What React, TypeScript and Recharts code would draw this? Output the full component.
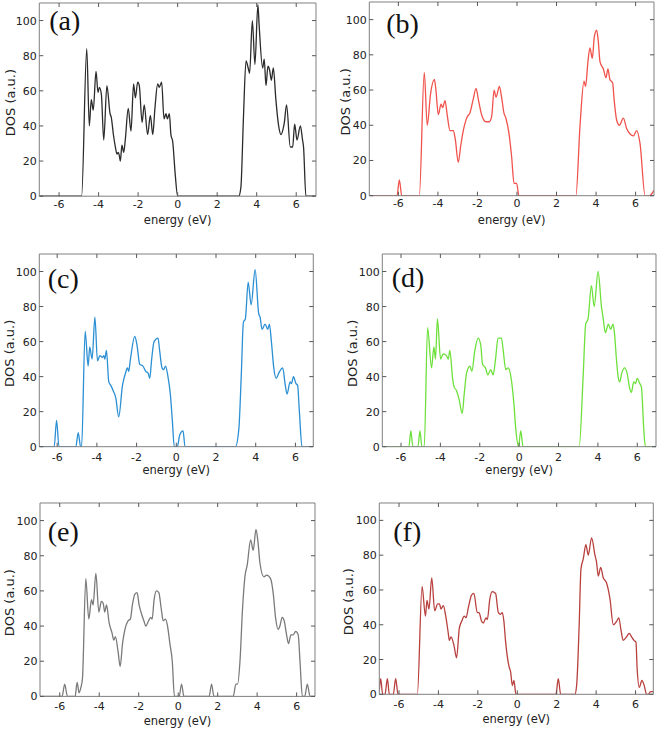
import { LineChart, Line, XAxis, YAxis } from "recharts"

// energy (eV) / DOS (a.u.)
const X_TICKS = [-6, -4, -2, 0, 2, 4, 6]
const Y_TICKS = [0, 20, 40, 60, 80, 100]

const energyA = [-7, -4.86, -4.6, -4.47, -4.37, -4.27, -4.13, -4.03, -3.96, -3.86, -3.74, -3.58, -3.42, -3.36, -3.25, -3.15, -3.07, -3.0, -2.95, -2.9, -2.82, -2.73, -2.65, -2.5, -2.36, -2.23, -2.14, -2.02, -1.94, -1.8, -1.69, -1.52, -1.38, -1.26, -1.15, -1.01, -0.93, -0.81, -0.69, -0.59, -0.52, -0.42, -0.34, -0.25, -0.12, 0, 3.09, 3.2, 3.33, 3.46, 3.59, 3.64, 3.78, 3.91, 4.06, 4.12, 4.3, 4.38, 4.47, 4.57, 4.65, 4.74, 4.84, 4.97, 5.11, 5.23, 5.35, 5.4, 5.51, 5.7, 5.82, 5.92, 6.04, 6.21, 6.32, 6.37, 6.49, 7]
const dosA = [0, 0, 84, 40, 55, 49, 71, 59, 62, 58, 32, 63, 47, 45, 35, 28, 24, 25, 23, 20, 29, 25, 32, 50, 37, 64, 56, 65, 63, 42, 52, 35, 46, 35, 50, 64, 62, 65, 44, 47, 44, 47, 35, 31, 12, 0, 0, 5, 45, 77, 72, 70, 100, 75, 109, 98, 73, 78, 63, 74, 72, 66, 73, 55, 40, 35, 39, 42, 52, 28, 28, 41, 32, 40, 32, 28, 0, 0]

const energyB = [-7.47, -6.07, -5.95, -5.83, -4.94, -4.69, -4.54, -4.37, -4.18, -4.1, -3.98, -3.84, -3.76, -3.64, -3.52, -3.39, -3.22, -3.12, -2.97, -2.85, -2.75, -2.51, -2.38, -2.21, -2.07, -1.96, -1.79, -1.57, -1.4, -1.28, -1.16, -1.06, -0.89, -0.78, -0.66, -0.56, -0.4, -0.27, -0.15, -0.02, 0.1, 2.98, 3.19, 3.39, 3.47, 3.58, 3.69, 3.81, 3.91, 4.03, 4.11, 4.2, 4.37, 4.5, 4.6, 4.7, 4.84, 4.91, 5.04, 5.18, 5.38, 5.55, 5.72, 5.89, 6.05, 6.22, 6.48, 6.69, 6.93]
const dosB = [0, 0, 9, 0, 0, 70, 40, 58, 66, 60, 46, 52, 50, 54, 45, 37, 37, 32, 19, 28, 35, 45, 47, 55, 61, 55, 46, 42, 42, 45, 60, 56, 62, 56, 47, 44, 35, 22, 7, 7, 0, 0, 40, 65, 62, 75, 84, 78, 90, 94, 88, 76, 72, 67, 72, 66, 64, 55, 43, 40, 44, 38, 35, 34, 37, 30, 0, 0, 3]

const energyC = [-6.9, -6.15, -6.03, -5.91, -5.06, -4.94, -4.82, -4.77, -4.59, -4.44, -4.36, -4.24, -4.1, -3.97, -3.85, -3.72, -3.65, -3.6, -3.52, -3.4, -3.3, -3.18, -3.05, -2.9, -2.71, -2.56, -2.46, -2.4, -2.31, -2.09, -1.98, -1.84, -1.68, -1.54, -1.42, -1.34, -1.24, -1.12, -0.92, -0.84, -0.72, -0.64, -0.54, -0.42, -0.3, -0.2, -0.1, 0.05, 0.18, 0.34, 0.44, 2.98, 3.15, 3.27, 3.38, 3.48, 3.62, 3.77, 3.97, 4.15, 4.22, 4.32, 4.47, 4.61, 4.69, 4.79, 4.91, 5.03, 5.16, 5.36, 5.49, 5.58, 5.73, 5.8, 5.9, 6.03, 6.11, 6.2, 6.33, 6.9]
const dosC = [0, 0, 15, 0, 0, 8, 0, 0, 66, 46, 57, 50, 74, 49, 52, 51, 52, 50, 55, 37, 35, 32, 28, 17, 35, 42, 45, 43, 50, 63, 58, 47, 46, 43, 42, 39, 50, 60, 62, 55, 45, 44, 46, 40, 30, 15, 0, 0, 7, 9, 0, 0, 10, 40, 71, 73, 94, 81, 101, 76, 74, 67, 70, 67, 70, 60, 45, 39, 42, 45, 35, 30, 37, 36, 40, 36, 35, 20, 0, 0]

const energyD = [-6.95, -5.6, -5.5, -5.4, -5.14, -5.04, -4.94, -4.82, -4.65, -4.45, -4.33, -4.25, -4.15, -3.99, -3.86, -3.69, -3.6, -3.52, -3.38, -3.3, -3.18, -3.05, -2.89, -2.79, -2.67, -2.5, -2.4, -2.25, -2.08, -1.95, -1.86, -1.71, -1.59, -1.44, -1.32, -1.2, -1.07, -0.9, -0.81, -0.68, -0.56, -0.42, -0.27, -0.17, -0.03, 0.08, 0.2, 3.05, 3.25, 3.38, 3.5, 3.67, 3.81, 4.01, 4.18, 4.26, 4.38, 4.53, 4.65, 4.77, 4.84, 4.94, 5.04, 5.11, 5.21, 5.36, 5.48, 5.62, 5.7, 5.82, 5.91, 5.99, 6.13, 6.21, 6.33, 6.41, 6.95]
const dosD = [0, 0, 9, 0, 0, 9, 0, 0, 68, 45, 57, 50, 73, 50, 53, 52, 50, 55, 39, 34, 32, 27, 19, 30, 42, 46, 43, 55, 62, 58, 47, 45, 41, 44, 41, 50, 62, 62, 55, 44, 45, 40, 25, 10, 0, 9, 0, 0, 40, 70, 73, 92, 80, 100, 80, 74, 65, 70, 67, 70, 65, 50, 39, 37, 42, 45, 42, 33, 31, 37, 36, 39, 36, 34, 10, 0, 0]

const energyE = [-7, -5.88, -5.75, -5.61, -5.22, -5.12, -5.02, -4.93, -4.85, -4.68, -4.53, -4.39, -4.31, -4.17, -4.02, -3.89, -3.8, -3.72, -3.63, -3.5, -3.35, -3.26, -3.18, -3.04, -2.94, -2.82, -2.7, -2.54, -2.42, -2.32, -2.2, -2.08, -1.98, -1.86, -1.74, -1.64, -1.5, -1.4, -1.32, -1.22, -1.1, -0.98, -0.86, -0.76, -0.64, -0.54, -0.42, -0.3, -0.19, 0.05, 0.17, 0.29, 1.57, 1.69, 1.81, 2.79, 2.92, 3.01, 3.13, 3.26, 3.38, 3.5, 3.67, 3.8, 3.94, 4.04, 4.14, 4.34, 4.48, 4.68, 4.82, 4.93, 5.07, 5.15, 5.27, 5.37, 5.49, 5.59, 5.71, 5.83, 5.95, 6.08, 6.17, 6.29, 6.41, 6.54, 6.68, 6.93]
const dosE = [0, 0, 7, 0, 0, 8, 2, 5, 10, 67, 44, 55, 52, 70, 48, 54, 53, 48, 52, 42, 36, 32, 34, 25, 17, 30, 38, 43, 44, 52, 58, 59, 52, 47, 43, 40, 43, 45, 44, 55, 60, 59, 50, 43, 44, 40, 30, 20, 0, 0, 7, 0, 0, 7, 0, 0, 7, 7, 20, 50, 68, 75, 89, 83, 95, 88, 76, 68, 69, 67, 58, 45, 38, 40, 45, 43, 35, 30, 35, 35, 37, 35, 20, 0, 0, 7, 0, 0]

const energyF = [-7, -6.93, -6.83, -6.71, -6.59, -6.49, -6.29, -6.17, -6.05, -5.07, -4.83, -4.66, -4.58, -4.48, -4.34, -4.19, -4.04, -3.95, -3.87, -3.75, -3.63, -3.5, -3.45, -3.36, -3.21, -3.08, -2.94, -2.82, -2.69, -2.6, -2.48, -2.32, -2.2, -2.03, -1.94, -1.81, -1.72, -1.59, -1.52, -1.39, -1.27, -1.1, -0.96, -0.85, -0.76, -0.68, -0.59, -0.42, -0.34, -0.25, -0.17, -0.07, 1.96, 2.08, 2.2, 2.92, 3.01, 3.14, 3.23, 3.35, 3.48, 3.6, 3.77, 3.94, 4.02, 4.11, 4.23, 4.36, 4.53, 4.7, 4.87, 5.04, 5.15, 5.26, 5.37, 5.54, 5.68, 5.8, 5.92, 6.02, 6.08, 6.19, 6.32, 6.44, 6.56, 6.64, 6.76, 6.9]
const dosF = [2, 9, 0, 0, 9, 0, 0, 9, 0, 0, 62, 45, 54, 49, 67, 48, 52, 52, 49, 51, 45, 35, 31, 33, 28, 21, 38, 42, 45, 44, 50, 57, 58, 47, 47, 42, 41, 44, 43, 55, 59, 58, 47, 46, 47, 42, 30, 16, 13, 5, 8, 0, 0, 9, 0, 0, 5, 40, 72, 78, 86, 80, 90, 80, 76, 68, 73, 67, 64, 55, 40, 42, 44, 37, 31, 33, 35, 33, 31, 30, 15, 4, 8, 5, 0, 0, 1.5, 1.5]

const FRAME = "#808080"
const TICK = "#555555"
const TEXT = "#222222"
const SANS = "'DejaVu Sans', Verdana, sans-serif"
const SERIF = "'Liberation Serif', 'Times New Roman', serif"
const TOP_PAD = 6
const BOTTOM_PAD = 40

interface Panel {
  letter: string
  energy: number[]
  dos: number[]
  color: string
  col: number
  left: number
  right: number
  top: number
  bottom: number
  xMin: number
  xMax: number
  dosDx: number
  tickDy: number
  titleDy: number
  letterDx: number
  letterDy: number
}

const PANELS: Panel[] = [
  { letter: "(a)", energy: energyA, dos: dosA, color: "#2b2b2b", col: 0, left: 39.3, right: 316, top: 2.5, bottom: 195.7, xMin: -7, xMax: 7, dosDx: -29.3, tickDy: 11.5, titleDy: 28.3, letterDx: 10, letterDy: 27.5 },
  { letter: "(b)", energy: energyB, dos: dosB, color: "#f0524c", col: 330, left: 369.3, right: 654, top: 2, bottom: 195.7, xMin: -7.47, xMax: 6.93, dosDx: -24.3, tickDy: 11.5, titleDy: 28.3, letterDx: 17, letterDy: 31.5 },
  { letter: "(c)", energy: energyC, dos: dosC, color: "#2b8fd4", col: 0, left: 39.3, right: 313.3, top: 254, bottom: 446.7, xMin: -6.9, xMax: 6.9, dosDx: -29.8, tickDy: 14.5, titleDy: 27.5, letterDx: 8.4, letterDy: 34 },
  { letter: "(d)", energy: energyD, dos: dosD, color: "#6ee03c", col: 330, left: 382.3, right: 656, top: 254, bottom: 446.7, xMin: -6.95, xMax: 6.95, dosDx: -30.1, tickDy: 14.5, titleDy: 27.5, letterDx: 9.4, letterDy: 33 },
  { letter: "(e)", energy: energyE, dos: dosE, color: "#7a7a7a", col: 0, left: 40, right: 315, top: 503.3, bottom: 696.7, xMin: -7, xMax: 6.93, dosDx: -30.5, tickDy: 13.5, titleDy: 28.7, letterDx: 7.7, letterDy: 37.7 },
  { letter: "(f)", energy: energyF, dos: dosF, color: "#b8403e", col: 330, left: 379.3, right: 653.3, top: 502.7, bottom: 694, xMin: -7, xMax: 6.9, dosDx: -30.6, tickDy: 14, titleDy: 28.3, letterDx: 14, letterDy: 38 },
]

// Recharts clones label elements with its own x/y, so positions go in px/py
function SvgText({ px, py, rot, anchor, size, family, color, text }: {
  px: number; py: number; rot?: number; anchor?: string; size: number; family: string; color: string; text: string
}) {
  return (
    <text
      x={px}
      y={py}
      transform={rot ? `rotate(${rot}, ${px}, ${py})` : undefined}
      textAnchor={anchor ?? "start"}
      dominantBaseline={rot ? "central" : undefined}
      fontFamily={family}
      fontSize={size}
      fill={color}
    >
      {text}
    </text>
  )
}

function DosPanel({ p }: { p: Panel }) {
  const data = p.energy.map((e, i) => ({ e, dos: p.dos[i] }))
  const plotH = p.bottom - p.top
  const leftW = p.left - p.col
  const rightW = p.col + 330 - p.right
  const plotW = p.right - p.left
  const h = TOP_PAD + plotH + BOTTOM_PAD

  return (
    <div style={{ position: "absolute", left: p.col, top: p.top - TOP_PAD }}>
      <LineChart width={330} height={h} data={data} margin={{ top: 0, right: 0, bottom: 0, left: 0 }}>
        <XAxis
          dataKey="e"
          type="number"
          domain={[p.xMin, p.xMax]}
          allowDataOverflow
          ticks={X_TICKS}
          interval={0}
          height={BOTTOM_PAD}
          tickSize={0}
          tickMargin={0}
          tickLine={false}
          axisLine={{ stroke: FRAME }}
          tick={(t: any) => (
            <g>
              <line x1={t.x} x2={t.x} y1={t.y} y2={t.y - 4} stroke={TICK} />
              <text x={t.x} y={t.y + p.tickDy} textAnchor="middle" fontFamily={SANS} fontSize={11} fill={TEXT}>
                {t.payload.value}
              </text>
            </g>
          )}
          label={
            <SvgText px={leftW + plotW / 2} py={TOP_PAD + plotH + p.titleDy} anchor="middle" size={11.5} family={SANS} color={TEXT} text="energy (eV)" />
          }
        />
        <XAxis
          xAxisId="top"
          dataKey="e"
          orientation="top"
          type="number"
          domain={[p.xMin, p.xMax]}
          allowDataOverflow
          ticks={X_TICKS}
          interval={0}
          height={TOP_PAD}
          tickSize={0}
          tickMargin={0}
          tickLine={false}
          axisLine={{ stroke: FRAME }}
          tick={(t: any) => <line x1={t.x} x2={t.x} y1={t.y} y2={t.y + 4} stroke={TICK} />}
          label={
            <SvgText px={leftW + p.letterDx} py={TOP_PAD + p.letterDy} size={28} family={SERIF} color="#111" text={p.letter} />
          }
        />
        <YAxis
          type="number"
          domain={[0, 110]}
          allowDataOverflow
          ticks={Y_TICKS}
          interval={0}
          width={leftW}
          tickSize={0}
          tickMargin={0}
          tickLine={false}
          axisLine={{ stroke: FRAME }}
          tick={(t: any) => (
            <g>
              <line x1={t.x} x2={t.x + 4} y1={t.y} y2={t.y} stroke={TICK} />
              <text x={t.x - 2.5} y={t.y + 4} textAnchor="end" fontFamily={SANS} fontSize={11} fill={TEXT}>
                {t.payload.value}
              </text>
            </g>
          )}
          label={
            <SvgText px={leftW + p.dosDx} py={TOP_PAD + plotH / 2 + 3} rot={-90} anchor="middle" size={13} family={SANS} color={TEXT} text="DOS (a.u.)" />
          }
        />
        <YAxis
          yAxisId="right"
          orientation="right"
          type="number"
          domain={[0, 110]}
          allowDataOverflow
          ticks={Y_TICKS}
          interval={0}
          width={rightW}
          tickSize={0}
          tickMargin={0}
          tickLine={false}
          axisLine={{ stroke: FRAME }}
          tick={(t: any) => <line x1={t.x} x2={t.x - 4} y1={t.y} y2={t.y} stroke={TICK} />}
        />
        <Line
          type="monotone"
          dataKey="dos"
          stroke={p.color}
          strokeWidth={1.3}
          dot={false}
          activeDot={false}
          isAnimationActive={false}
        />
        {/* invisible twin so the mirrored top/right axes get a scale */}
        <Line
          xAxisId="top"
          yAxisId="right"
          type="monotone"
          dataKey="dos"
          stroke="none"
          dot={false}
          activeDot={false}
          isAnimationActive={false}
        />
      </LineChart>
    </div>
  )
}

export default function App() {
  return (
    <div style={{ position: "absolute", left: 0, top: 0, width: 660, height: 730, background: "#fff", overflow: "hidden" }}>
      {PANELS.map((p) => (
        <DosPanel key={p.letter} p={p} />
      ))}
    </div>
  )
}
